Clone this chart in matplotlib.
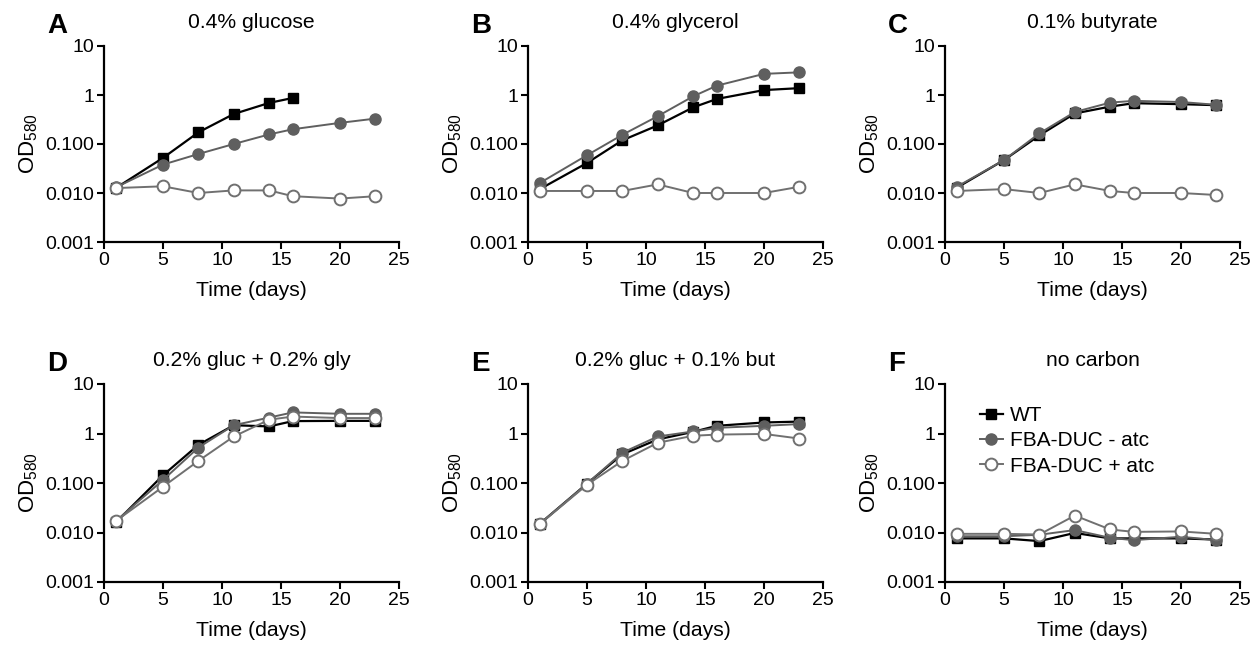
import numpy as np
import matplotlib
matplotlib.use('Agg')
import matplotlib.pyplot as plt

plt.rcParams['font.family'] = ['Liberation Sans', 'DejaVu Sans']
plt.rcParams['mathtext.default'] = 'regular'

# Tempo de amostragem (dias)
days = [1, 5, 8, 11, 14, 16, 20, 23]

letters = ['A', 'B', 'C', 'D', 'E', 'F']
titles = ['0.4% glucose', '0.4% glycerol', '0.1% butyrate',
          '0.2% gluc + 0.2% gly', '0.2% gluc + 0.1% but', 'no carbon']

# OD580 por painel: WT, FBA-DUC - atc, FBA-DUC + atc
wt = [
    [0.0126, 0.052, 0.173, 0.41, 0.69, 0.87],
    [0.012, 0.041, 0.119, 0.24, 0.56, 0.83, 1.26, 1.38],
    [0.0128, 0.047, 0.15, 0.42, 0.58, 0.68, 0.65, 0.62],
    [0.016, 0.143, 0.59, 1.47, 1.39, 1.78, 1.8, 1.8],
    [0.015, 0.097, 0.38, 0.76, 1.08, 1.43, 1.67, 1.74],
    [0.0076, 0.0076, 0.0067, 0.0098, 0.0076, 0.0076, 0.0076, 0.0072],
]
duc_minus = [
    [0.013, 0.038, 0.0625, 0.10, 0.157, 0.20, 0.27, 0.33],
    [0.016, 0.059, 0.154, 0.37, 0.94, 1.55, 2.7, 2.9],
    [0.0134, 0.047, 0.165, 0.45, 0.70, 0.76, 0.72, 0.63],
    [0.017, 0.115, 0.52, 1.47, 2.1, 2.67, 2.5, 2.5],
    [0.015, 0.097, 0.41, 0.87, 1.1, 1.3, 1.43, 1.55],
    [0.0084, 0.0084, 0.009, 0.0112, 0.0078, 0.0070, 0.0082, 0.0070],
]
duc_plus = [
    [0.0126, 0.0137, 0.010, 0.0113, 0.0113, 0.0086, 0.0077, 0.0086],
    [0.011, 0.011, 0.011, 0.015, 0.010, 0.010, 0.010, 0.0134],
    [0.011, 0.012, 0.010, 0.015, 0.011, 0.010, 0.010, 0.0091],
    [0.017, 0.084, 0.28, 0.87, 1.9, 2.2, 2.05, 2.05],
    [0.0148, 0.092, 0.28, 0.65, 0.90, 0.95, 0.98, 0.79],
    [0.0094, 0.0094, 0.0091, 0.022, 0.0115, 0.0103, 0.0105, 0.0094],
]

W, H = 1254, 647
fig = plt.figure(figsize=(W / 100, H / 100), dpi=100)

lefts = [104, 528, 945]
tops = [46, 384]
bottoms = [242, 582]
aw = 295

gray = '#5f5f5f'
lgray = '#707070'

for i in range(6):
    r, c = divmod(i, 3)
    ah = bottoms[r] - tops[r]
    ax = fig.add_axes([lefts[c] / W, 1 - bottoms[r] / H, aw / W, ah / H])
    n = len(wt[i])
    ax.plot(days[:n], wt[i], color='black', lw=1.6, marker='s', ms=7.5,
            mfc='black', mec='black', label='WT', zorder=3)
    ax.plot(days, duc_minus[i], color=gray, lw=1.4, marker='o', ms=8,
            mfc=gray, mec=gray, label='FBA-DUC - atc', zorder=4)
    ax.plot(days, duc_plus[i], color=lgray, lw=1.4, marker='o', ms=8.5,
            mfc='white', mec=lgray, mew=1.4, label='FBA-DUC + atc', zorder=5)

    ax.set_yscale('log')
    ax.set_ylim(0.001, 10)
    ax.set_xlim(0, 25)
    ax.set_yticks([0.001, 0.01, 0.1, 1, 10])
    ax.set_yticklabels(['0.001', '0.010', '0.100', '1', '10'])
    ax.set_xticks([0, 5, 10, 15, 20, 25])
    ax.minorticks_off()
    ax.tick_params(labelsize=14, width=1.5, length=5, direction='out', pad=2)
    for s in ['top', 'right']:
        ax.spines[s].set_visible(False)
    for s in ['left', 'bottom']:
        ax.spines[s].set_linewidth(1.6)

    ax.set_xlabel('Time (days)', fontsize=15.2, labelpad=9)
    ax.set_ylabel('OD$_{580}$', fontsize=16, labelpad=4)
    ax.set_title(titles[i], fontsize=15.2, pad=13)
    ax.text(-57 / aw, 1 + 13 / ah, letters[i], transform=ax.transAxes,
            fontsize=20, fontweight='bold', va='baseline', ha='left')

    if i == 5:
        ax.legend(loc='upper left', bbox_to_anchor=(0.09, 0.93), frameon=False,
                  fontsize=15, handlelength=1.1, handletextpad=0.35,
                  labelspacing=0.3, borderaxespad=0)

fig.savefig('out.png', dpi=100)
